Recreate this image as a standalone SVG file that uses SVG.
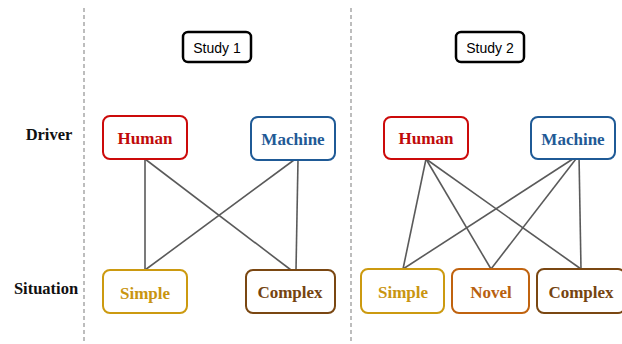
<svg xmlns="http://www.w3.org/2000/svg" width="622" height="344" viewBox="0 0 622 344">
<style>
.sep{stroke:#a8a8a8;stroke-width:1.5;stroke-dasharray:4 3;fill:none}
.box{fill:#fff;stroke-width:2}
.study rect{fill:#fff;stroke:#000;stroke-width:2.5}
.study text{font-family:"Liberation Sans",Arial,sans-serif;font-size:14px;fill:#000;text-anchor:middle}
.lbl{font-family:"Liberation Serif","Times New Roman",serif;font-weight:bold;font-size:16.5px;fill:#111;text-anchor:middle}
.nt{font-family:"Liberation Serif","Times New Roman",serif;font-weight:bold;font-size:17px;text-anchor:middle}
.human rect{stroke:#cc0a0a}.human text{fill:#c00a0a}
.machine rect{stroke:#1f5a96}.machine text{fill:#1f5a96}
.simple rect{stroke:#cc9a10}.simple text{fill:#c99510}
.novel rect{stroke:#c0630f}.novel text{fill:#b8600f}
.complex rect{stroke:#7a4712}.complex text{fill:#754410}
#connectors line{stroke:#5a5a5a;stroke-width:1.6}
</style>
<rect width="622" height="344" fill="#fff"/>
<line class="sep" x1="84" y1="8" x2="84" y2="344"/>
<line class="sep" x1="351" y1="8" x2="351" y2="344"/>
<text class="lbl" x="49" y="140">Driver</text>
<text class="lbl" x="46" y="294">Situation</text>
<g id="connectors">
<line x1="145" y1="159" x2="145" y2="270"/>
<line x1="145" y1="159" x2="291" y2="270"/>
<line x1="294" y1="160" x2="145" y2="270"/>
<line x1="298" y1="160" x2="296" y2="270"/>
<line x1="426" y1="159" x2="403" y2="269"/>
<line x1="426" y1="159" x2="491" y2="269"/>
<line x1="426" y1="159" x2="581" y2="269"/>
<line x1="579" y1="155" x2="403" y2="269"/>
<line x1="579" y1="155" x2="491" y2="269"/>
<line x1="579" y1="155" x2="581" y2="269"/>
</g>
<g id="study1" class="study"><rect x="183" y="32" width="68" height="30" rx="5"/><text x="217" y="53">Study 1</text></g>
<g id="study2" class="study"><rect x="456" y="32" width="68" height="30" rx="5"/><text x="490" y="53">Study 2</text></g>
<g id="s1-human" class="human"><rect class="box" x="103" y="116" width="84" height="43" rx="7"/><text class="nt" x="145" y="144">Human</text></g>
<g id="s1-machine" class="machine"><rect class="box" x="251" y="117" width="84" height="43" rx="7"/><text class="nt" x="293" y="145">Machine</text></g>
<g id="s1-simple" class="simple"><rect class="box" x="103" y="270" width="84" height="43" rx="7"/><text class="nt" x="145" y="299">Simple</text></g>
<g id="s1-complex" class="complex"><rect class="box" x="246" y="270" width="89" height="43" rx="7"/><text class="nt" x="290" y="298">Complex</text></g>
<g id="s2-human" class="human"><rect class="box" x="384" y="117" width="84" height="42" rx="7"/><text class="nt" x="426" y="144">Human</text></g>
<g id="s2-machine" class="machine"><rect class="box" x="531" y="117" width="84" height="42" rx="7"/><text class="nt" x="573" y="145">Machine</text></g>
<g id="s2-simple" class="simple"><rect class="box" x="361" y="269" width="83" height="44" rx="7"/><text class="nt" x="403" y="298">Simple</text></g>
<g id="s2-novel" class="novel"><rect class="box" x="452" y="269" width="77" height="44" rx="7"/><text class="nt" x="491" y="298">Novel</text></g>
<g id="s2-complex" class="complex"><rect class="box" x="537" y="269" width="88" height="44" rx="7"/><text class="nt" x="581" y="298">Complex</text></g>
</svg>
